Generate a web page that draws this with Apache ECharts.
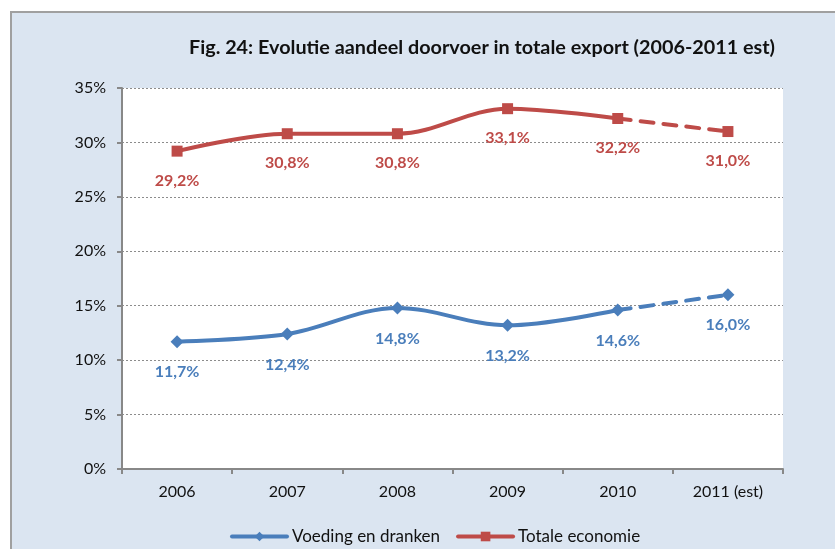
<!DOCTYPE html>
<html><head><meta charset="utf-8">
<script src="https://cdn.jsdelivr.net/npm/echarts@6/dist/echarts.min.js"></script>
<style>html,body{margin:0;padding:0;background:#fff;}#c{width:835px;height:549px;}</style>
</head><body><div id="c"></div>
<script>
const categories = ['2006','2007','2008','2009','2010','2011 (est)'];
const voeding = [11.7, 12.4, 14.8, 13.2, 14.6, 16.0];
const totale = [29.2, 30.8, 30.8, 33.1, 32.2, 31.0];
const yTicks = [0,5,10,15,20,25,30,35];
const titleText = 'Fig. 24: Evolutie aandeel doorvoer in totale export (2006-2011 est)';
const names = ['Voeding en dranken','Totale economie'];
const estIndex = 5;

const BLUE = '#4a7ebb', RED = '#be4b48';
const FONT = 'Lato, "Open Sans", sans-serif';
const fmt = v => (typeof v === 'object' ? v.value : v).toFixed(1).replace('.', ',') + '%';

function makeSeries(name, vals, color, symbol, symbolSize) {
  const label = {show:true, position:'bottom', distance:16, color:color, fontWeight:'bold',
    fontSize:16, fontFamily:FONT, formatter:p => fmt(p.value)};
  const solid = vals.map((v,i) => i < estIndex ? v : '-');
  const dashed = vals.map((v,i) => {
    if (i < estIndex - 1) return '-';
    if (i === estIndex - 1) return {value:v, symbol:'none', label:{show:false}};
    return v;
  });
  return [
    {name:name, type:'line', data:solid, smooth:0.35, symbol:symbol, symbolSize:symbolSize,
     itemStyle:{color:color}, lineStyle:{color:color, width:4, cap:'round'}, label:label, z:3},
    {name:name, type:'line', data:dashed, smooth:false, symbol:symbol, symbolSize:symbolSize,
     itemStyle:{color:color}, lineStyle:{color:color, width:4, type:[13,10], cap:'round'}, label:label, z:3}
  ];
}

const chart = echarts.init(document.getElementById('c'), null, {renderer:'canvas'});
chart.setOption({
  animation:false,
  backgroundColor:'#ffffff',
  graphic:[{type:'rect', z:-10, shape:{x:11, y:12, width:840, height:560},
    style:{fill:'#dbe5f1', stroke:'#a0a0a0', lineWidth:2}}],
  title:{text:titleText, left:477, top:33, textAlign:'center',
    textStyle:{fontFamily:FONT, fontWeight:'bold', fontSize:19.8, color:'#111'}},
  grid:{left:122, right:52, top:88, bottom:80, show:true, backgroundColor:'#ffffff', borderWidth:0},
  legend:{bottom:-1, left:225, itemWidth:55, itemHeight:12, itemGap:16,
    lineStyle:{width:4}, data:names, textStyle:{fontFamily:FONT, fontSize:17, color:'#111'}},
  xAxis:{type:'category', data:categories, boundaryGap:true,
    axisLine:{lineStyle:{color:'#888', width:2}},
    axisTick:{show:true, length:5, lineStyle:{color:'#888', width:2}},
    axisLabel:{fontFamily:FONT, fontSize:16, color:'#111', margin:15}},
  yAxis:{type:'value', min:yTicks[0], max:yTicks[yTicks.length-1], interval:5,
    axisLine:{show:true, lineStyle:{color:'#888', width:2}},
    axisTick:{show:true, length:5, lineStyle:{color:'#888', width:2}},
    splitLine:{lineStyle:{color:'#8c8c8c', type:[2,2], width:1}},
    axisLabel:{fontFamily:FONT, fontSize:16, color:'#111', margin:16, formatter:v => v + '%'}},
  series:[...makeSeries(names[0], voeding, BLUE, 'diamond', 13),
          ...makeSeries(names[1], totale, RED, 'rect', 11)]
});
</script></body></html>
